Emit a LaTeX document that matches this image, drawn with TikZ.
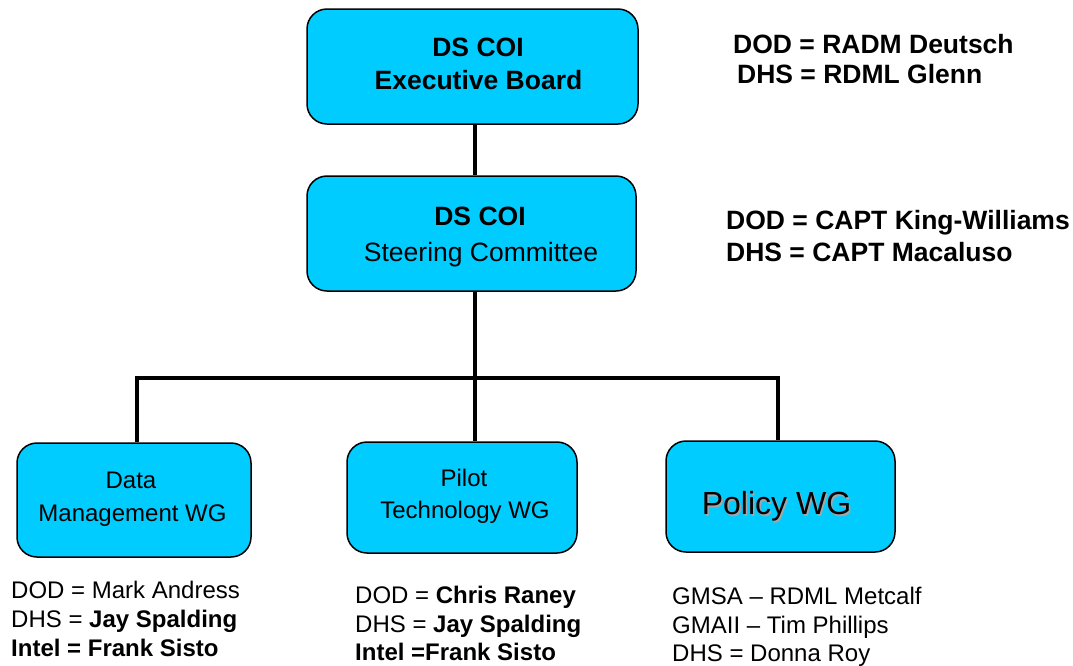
\documentclass[tikz,border=0pt]{standalone}
\usepackage{fontspec}
\setmainfont{Liberation Sans}
\begin{document}
\begin{tikzpicture}[x=1pt,y=-1pt,
  box/.style={draw=black,line width=1.5pt,fill=boxcyan,rounded corners=20pt,inner sep=0pt},
  conn/.style={line width=4.5pt,black},
  boxtxt/.style={anchor=base,inner sep=0pt},
  side/.style={anchor=base west,font=\fontsize{26.5}{30}\selectfont\bfseries,inner sep=0pt},
  note/.style={anchor=base west,font=\fontsize{24}{28}\selectfont,inner sep=0pt}]
\definecolor{boxcyan}{HTML}{00CCFF}
\useasboundingbox (0,0) rectangle (1073,665);
% boxes
\node[box,minimum width=331pt,minimum height=115pt] (exec) at (472.5,66.5) {};
\node[box,minimum width=329pt,minimum height=115pt] (steer) at (471.5,233.5) {};
\node[box,minimum width=234pt,minimum height=114pt] (dm) at (134,500) {};
\node[box,minimum width=230pt,minimum height=111pt] (pt) at (462,497.5) {};
\node[box,minimum width=229pt,minimum height=111pt] (pol) at (780.5,496.5) {};
% box texts
\node[boxtxt,font=\fontsize{26.5}{30}\selectfont\bfseries] (t1) at (478,56) {DS COI};
\node[boxtxt,font=\fontsize{26.5}{30}\selectfont\bfseries] (t2) at (478.5,89) {Executive Board};
\node[boxtxt,font=\fontsize{26.5}{30}\selectfont\bfseries] (t3) at (480,225) {DS COI};
\node[boxtxt,font=\fontsize{26.5}{30}\selectfont] (t4) at (481,261) {Steering Committee};
\node[boxtxt,font=\fontsize{24}{28}\selectfont] (t5) at (131,488) {Data};
\node[boxtxt,font=\fontsize{24}{28}\selectfont] (t6) at (132.5,521) {Management WG};
\node[boxtxt,font=\fontsize{24}{28}\selectfont] (t7) at (464,486) {Pilot};
\node[boxtxt,font=\fontsize{24}{28}\selectfont] (t8) at (465,518) {Technology WG};
\node[boxtxt,font=\fontsize{32}{36}\selectfont,text=gray!70] (t9s) at (778,516) {Policy WG};
\node[boxtxt,font=\fontsize{32}{36}\selectfont] (t9) at (776.5,514.5) {Policy WG};
% connectors
\coordinate (bm) at (475,378);
\coordinate (bl) at (137,378);
\coordinate (br) at (778,378);
\draw[conn] (exec.south -| bm) -- (steer.north -| bm);
\draw[conn] (steer.south -| bm) -- (bm);
\draw[conn] ([xshift=-2.25pt]bl) -- ([xshift=2.25pt]br);
\draw[conn] (bl) -- (bl |- dm.north);
\draw[conn] (bm) -- (bm |- pt.north);
\draw[conn] (br) -- (br |- pol.north);
% side texts
\node[side] (s1) at (733,53) {DOD = RADM Deutsch};
\node[side] (s2) at (737,83) {DHS = RDML Glenn};
\node[side] (s3) at (726,229) {DOD = CAPT King-Williams};
\node[side] (s4) at (726,261) {DHS = CAPT Macaluso};
% bottom notes
\node[note] (n1) at (11,598) {DOD = Mark Andress};
\node[note] (n2) at (11,627) {DHS = \textbf{Jay Spalding}};
\node[note] (n3) at (11,656) {\textbf{Intel = Frank Sisto}};
\node[note] (n4) at (355,603) {DOD = \textbf{Chris Raney}};
\node[note] (n5) at (355,632) {DHS = \textbf{Jay Spalding}};
\node[note] (n6) at (355,660) {\textbf{Intel =Frank Sisto}};
\node[note] (n7) at (672,604) {GMSA – RDML Metcalf};
\node[note] (n8) at (672,633) {GMAII – Tim Phillips};
\node[note] (n9) at (672,661) {DHS = Donna Roy};
\end{tikzpicture}
\end{document}
